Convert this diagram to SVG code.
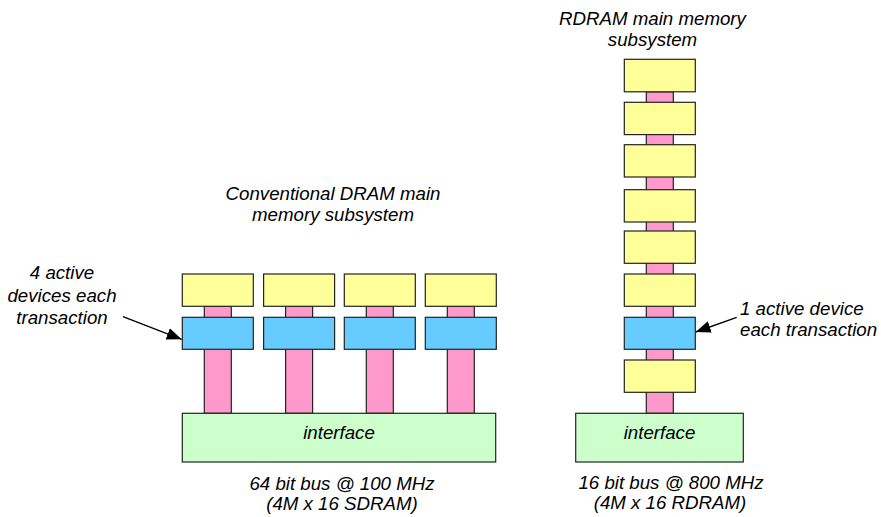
<svg xmlns="http://www.w3.org/2000/svg" width="881" height="517" viewBox="0 0 881 517">
<style>
text{font-family:"Liberation Sans",Arial,sans-serif;font-style:italic;font-size:18.7px;fill:#000}
.c{text-anchor:middle}
.box{stroke:#222;stroke-width:1.2}
.mem{fill:#FFFF99}
.act{fill:#66CCFF}
.bus{fill:#FF99CC;stroke:#222;stroke-width:1.2}
.ifc{fill:#CCFFCC;stroke:#222;stroke-width:1.2}
.arr{stroke:#000;stroke-width:1.4;fill:none;marker-end:url(#ah)}
</style>
<defs>
<marker id="ah" markerUnits="userSpaceOnUse" markerWidth="16" markerHeight="12" refX="15" refY="6" orient="auto">
<path d="M0,0 L15,6 L0,12 z" fill="#000"/>
</marker>
</defs>
<rect width="881" height="517" fill="#fff"/>

<g id="connectors">
  <g id="buses">
    <rect class="bus" x="204.3" y="306" width="27" height="107.3"/>
    <rect class="bus" x="285.6" y="306" width="27" height="107.3"/>
    <rect class="bus" x="366.3" y="306" width="27" height="107.3"/>
    <rect class="bus" x="447.3" y="306" width="27" height="107.3"/>
    <rect class="bus" x="646.3" y="91.8" width="27" height="321.5"/>
  </g>
  <g id="arrows">
    <line class="arr" x1="123" y1="316.7" x2="181.7" y2="339.3"/>
    <line class="arr" x1="736.7" y1="317.3" x2="695.7" y2="332"/>
  </g>
</g>

<g id="conv-mem1"><rect class="box mem" x="182.3" y="274" width="71" height="32.3"/></g>
<g id="conv-act1"><rect class="box act" x="182.3" y="317.3" width="71" height="32"/></g>
<g id="conv-mem2"><rect class="box mem" x="263.6" y="274" width="71" height="32.3"/></g>
<g id="conv-act2"><rect class="box act" x="263.6" y="317.3" width="71" height="32"/></g>
<g id="conv-mem3"><rect class="box mem" x="344.3" y="274" width="71" height="32.3"/></g>
<g id="conv-act3"><rect class="box act" x="344.3" y="317.3" width="71" height="32"/></g>
<g id="conv-mem4"><rect class="box mem" x="425.3" y="274" width="71" height="32.3"/></g>
<g id="conv-act4"><rect class="box act" x="425.3" y="317.3" width="71" height="32"/></g>

<g id="conv-interface">
  <rect class="ifc" x="182.3" y="413.3" width="313.4" height="48.7"/>
  <text class="c" x="339" y="438.5">interface</text>
</g>

<g id="rd-mem1"><rect class="box mem" x="624.3" y="59.3" width="71" height="32.5"/></g>
<g id="rd-mem2"><rect class="box mem" x="624.3" y="102.3" width="71" height="32.3"/></g>
<g id="rd-mem3"><rect class="box mem" x="624.3" y="144.7" width="71" height="32.3"/></g>
<g id="rd-mem4"><rect class="box mem" x="624.3" y="189.7" width="71" height="32.3"/></g>
<g id="rd-mem5"><rect class="box mem" x="624.3" y="231" width="71" height="32.3"/></g>
<g id="rd-mem6"><rect class="box mem" x="624.3" y="274" width="71" height="32.3"/></g>
<g id="rd-act"><rect class="box act" x="624.3" y="317.3" width="71" height="32"/></g>
<g id="rd-mem7"><rect class="box mem" x="624.3" y="360" width="71" height="32.3"/></g>

<g id="rd-interface">
  <rect class="ifc" x="575.7" y="413.3" width="167.6" height="48.7"/>
  <text class="c" x="659.5" y="438.5">interface</text>
</g>

<g id="labels">
  <text class="c" x="333" y="199.5">Conventional DRAM main</text>
  <text class="c" x="333" y="220.7">memory subsystem</text>
  <text class="c" x="652.5" y="25">RDRAM main memory</text>
  <text class="c" x="652.5" y="45.5">subsystem</text>
  <text class="c" x="62" y="279">4 active</text>
  <text class="c" x="62" y="301.5">devices each</text>
  <text class="c" x="62" y="324">transaction</text>
  <text x="740" y="314.5">1 active device</text>
  <text x="740" y="336">each transaction</text>
  <text class="c" x="342" y="489.5">64 bit bus @ 100 MHz</text>
  <text class="c" x="342" y="509.5">(4M x 16 SDRAM)</text>
  <text class="c" x="671" y="489">16 bit bus @ 800 MHz</text>
  <text class="c" x="670" y="509">(4M x 16 RDRAM)</text>
</g>
</svg>
